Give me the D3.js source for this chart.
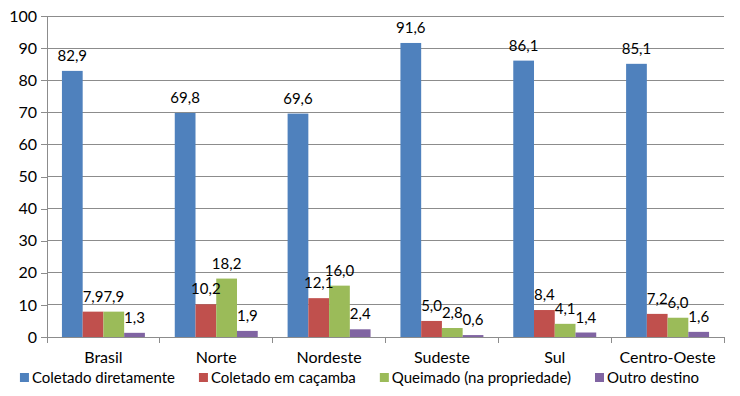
<!DOCTYPE html>
<html>
<head>
<meta charset="utf-8">
<script src="https://cdn.jsdelivr.net/npm/d3@7"></script>
<style>
  body { margin: 0; background: #fff; }
  svg { font-family: Lato, "Open Sans", sans-serif; }
</style>
</head>
<body>
<div id="app"></div>
<script>
const regions = ["Brasil", "Norte", "Nordeste", "Sudeste", "Sul", "Centro-Oeste"];
const seriesNames = ["Coletado diretamente", "Coletado em caçamba", "Queimado (na propriedade)", "Outro destino"];
const coletado = [82.9, 69.8, 69.6, 91.6, 86.1, 85.1];
const cacamba = [7.9, 10.2, 12.1, 5.0, 8.4, 7.2];
const queimado = [7.9, 18.2, 16.0, 2.8, 4.1, 6.0];
const outro = [1.3, 1.9, 2.4, 0.6, 1.4, 1.6];
const yTicks = [0, 10, 20, 30, 40, 50, 60, 70, 80, 90, 100];
const colors = ["#4F81BD", "#C0504D", "#9BBB59", "#8064A2"];

const series = [coletado, cacamba, queimado, outro];

const width = 740, height = 396;
const margin = { top: 16, right: 16, bottom: 59, left: 47 };

const svg = d3.select("#app").append("svg")
  .attr("width", width)
  .attr("height", height);

const x0 = d3.scaleBand()
  .domain(regions)
  .range([margin.left, width - margin.right])
  .paddingInner(0)
  .paddingOuter(0);

const x1 = d3.scaleBand()
  .domain(d3.range(series.length))
  .range([0, x0.bandwidth()])
  .paddingOuter(0.72)
  .paddingInner(0);

const y = d3.scaleLinear()
  .domain([0, 100])
  .range([height - margin.bottom, margin.top]);

// gridlines
svg.append("g")
  .selectAll("line")
  .data(yTicks.slice(1))
  .enter()
  .append("line")
  .attr("x1", margin.left)
  .attr("x2", width - margin.right)
  .attr("y1", (d) => y(d))
  .attr("y2", (d) => y(d))
  .attr("stroke", "#8c8c8c")
  .attr("stroke-width", 1)
  .attr("shape-rendering", "crispEdges");

// y axis
const yAxis = d3.axisLeft(y).tickValues(yTicks).tickSize(6).tickPadding(4);
const gy = svg.append("g")
  .attr("transform", `translate(${margin.left},0)`)
  .call(yAxis);
gy.select(".domain").attr("stroke", "#8c8c8c");
gy.selectAll(".tick line").attr("stroke", "#8c8c8c");
gy.selectAll("text").attr("font-size", 16).attr("fill", "#000").attr("font-family", "Lato, sans-serif");
gy.attr("shape-rendering", "crispEdges");

// bars
const groups = svg.append("g")
  .selectAll("g")
  .data(regions)
  .enter()
  .append("g")
  .attr("transform", (d) => `translate(${x0(d)},0)`);

groups.selectAll("rect")
  .data((d, i) => series.map((s, k) => ({ k: k, v: s[i] })))
  .enter()
  .append("rect")
  .attr("x", (d) => x1(d.k))
  .attr("y", (d) => y(d.v))
  .attr("width", x1.bandwidth())
  .attr("height", (d) => y(0) - y(d.v))
  .attr("fill", (d) => colors[d.k]);

groups.selectAll("text.val")
  .data((d, i) => series.map((s, k) => ({ k: k, v: s[i] })))
  .enter()
  .append("text")
  .attr("class", "val")
  .attr("x", (d) => x1(d.k) + x1.bandwidth() / 2)
  .attr("y", (d) => y(d.v) - 10)
  .attr("text-anchor", "middle")
  .attr("font-size", 15)
  .attr("fill", "#000")
  .text((d) => d.v.toFixed(1).replace(".", ","));

// x axis
const xEdges = regions.map((r) => x0(r)).concat([width - margin.right]);
const gx = svg.append("g").attr("shape-rendering", "crispEdges");
gx.append("line")
  .attr("x1", margin.left)
  .attr("x2", width - margin.right)
  .attr("y1", y(0))
  .attr("y2", y(0))
  .attr("stroke", "#8c8c8c");
gx.selectAll("line.tk")
  .data(xEdges)
  .enter()
  .append("line")
  .attr("class", "tk")
  .attr("x1", (d) => d)
  .attr("x2", (d) => d)
  .attr("y1", y(0))
  .attr("y2", y(0) + 6)
  .attr("stroke", "#8c8c8c");
gx.selectAll("text")
  .data(regions)
  .enter()
  .append("text")
  .attr("x", (d) => x0(d) + x0.bandwidth() / 2)
  .attr("y", y(0) + 26)
  .attr("text-anchor", "middle")
  .attr("font-size", 16)
  .attr("fill", "#000")
  .text((d) => d);

// legend
const legend = svg.append("g");
const items = legend.selectAll("g")
  .data(seriesNames)
  .enter()
  .append("g");
items.append("rect")
  .attr("width", 9)
  .attr("height", 9)
  .attr("y", -10)
  .attr("fill", (d, i) => colors[i]);
items.append("text")
  .attr("x", 12)
  .attr("font-size", 15)
  .attr("fill", "#000")
  .text((d) => d);

let cx = 0;
const gap = 24;
items.each(function () {
  const g = d3.select(this);
  g.attr("transform", `translate(${cx},0)`);
  cx += 12 + g.select("text").node().getComputedTextLength() + gap;
});
const total = cx - gap;
legend.attr("transform", `translate(${359.5 - total / 2},${height - 13})`);
</script>
</body>
</html>
